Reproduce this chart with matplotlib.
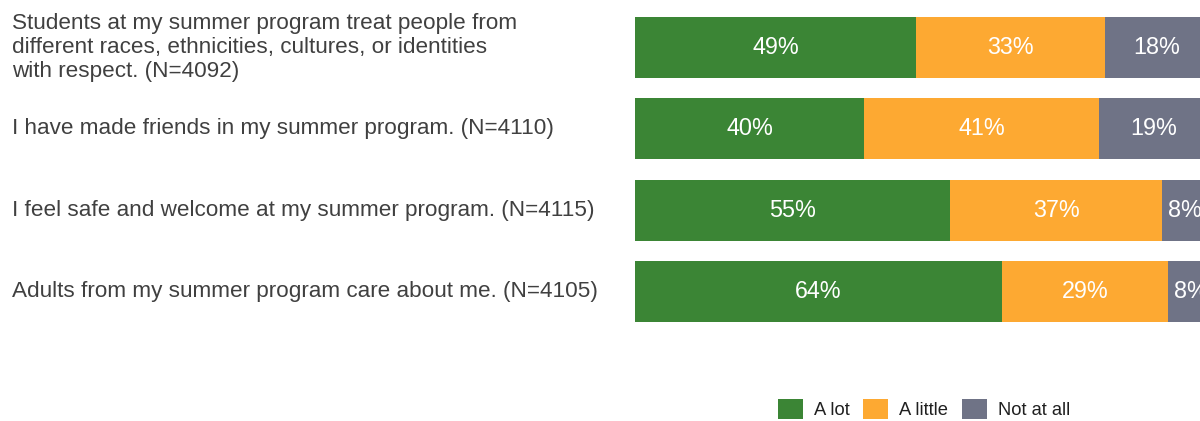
import matplotlib.pyplot as plt
import matplotlib.transforms as mtransforms
import numpy as np

plt.rcParams['font.family'] = ['Liberation Sans', 'DejaVu Sans']

statements = [
    "Students at my summer program treat people from\ndifferent races, ethnicities, cultures, or identities\nwith respect. (N=4092)",
    "I have made friends in my summer program. (N=4110)",
    "I feel safe and welcome at my summer program. (N=4115)",
    "Adults from my summer program care about me. (N=4105)",
]
a_lot = [49, 40, 55, 64]
a_little = [33, 41, 37, 29]
not_at_all = [18, 19, 8, 8]

series_names = ["A lot", "A little", "Not at all"]
colors = ["#3B8535", "#FDA932", "#6F7386"]

fig = plt.figure(figsize=(12, 4.21), dpi=100)
# bars run a little past the right edge of the canvas
ax = fig.add_axes([635 / 1200, 1 - 322 / 421, 573 / 1200, 305 / 421])

y = np.arange(len(statements))
left = np.zeros(len(statements))
handles = []
for vals, name, col in zip([a_lot, a_little, not_at_all], series_names, colors):
    vals = np.array(vals, dtype=float)
    bars = ax.barh(y, vals, left=left, height=0.75, color=col, label=name)
    handles.append(bars)
    for yi, l, v in zip(y, left, vals):
        ax.text(l + v / 2, yi, f"{int(v)}%", ha="center", va="center",
                color="white", fontsize=16.8)
    left += vals

ax.set_xlim(0, 100)
ax.set_ylim(3.375, -0.375)
ax.axis("off")

trans = mtransforms.blended_transform_factory(fig.transFigure, ax.transData)
for yi, s in zip(y, statements):
    ax.text(12 / 1200, yi, s, transform=trans, ha="left", va="center",
            fontsize=16.2, color="#404040", linespacing=1.2)

fig.legend(handles=handles, labels=series_names, loc="center",
           bbox_to_anchor=(924 / 1200, 1 - 409 / 421), ncol=3, frameon=False,
           fontsize=13.2, handlelength=1.35, handleheight=1.35, handletextpad=0.6,
           columnspacing=0.75, labelcolor="#202020")

fig.savefig("out.png", dpi=100)
